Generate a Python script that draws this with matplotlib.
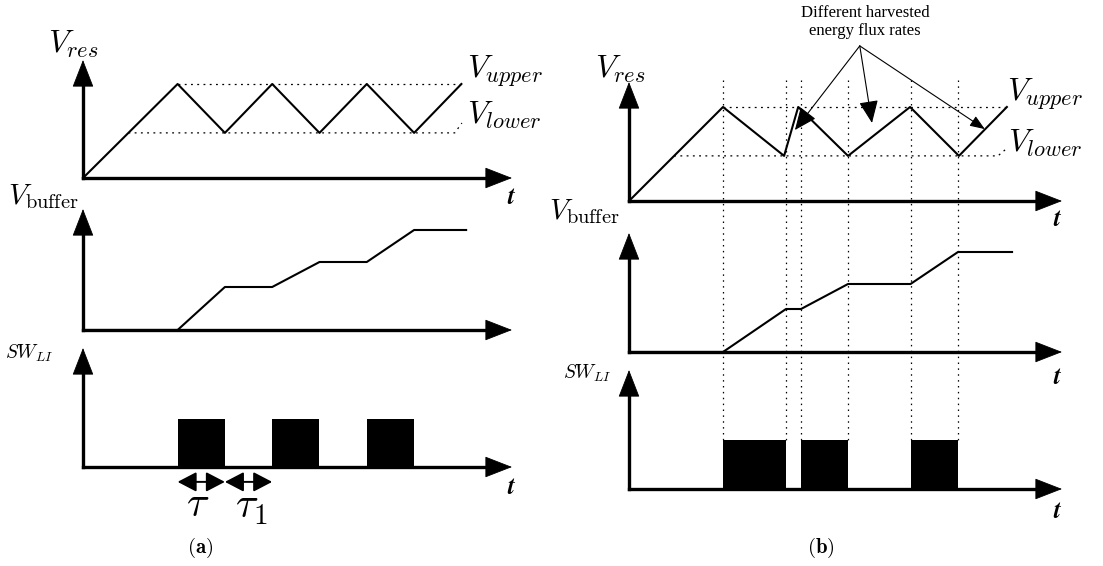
import matplotlib
matplotlib.use('Agg')
import matplotlib.pyplot as plt
from matplotlib import transforms

plt.rcParams['mathtext.fontset'] = 'cm'
plt.rcParams['font.family'] = ['DejaVu Serif']

# ---------------- data ----------------
V_UPPER = 1.0
V_LOWER = 0.48

# panel (a)
t_res_a = [0, 2, 3, 4, 5, 6, 7, 8]
v_res_a = [0, 1.0, 0.48, 1.0, 0.48, 1.0, 0.48, 1.0]
t_buf_a = [0, 2, 3, 4, 5, 6, 7, 8.1]
v_buf_a = [0, 0, 0.43, 0.43, 0.68, 0.68, 1.0, 1.0]
pulse_start_a = [2, 4, 6]
pulse_end_a = [3, 5, 7]
tau_spans = [(2, 3), (3, 4)]
tau_labels = [r'$\tau$', r'$\tau_1$']

# panel (b)
t_res_b = [0, 2, 3.30, 3.60, 4.66, 5.98, 7.02, 8.04]
v_res_b = [0, 1.0, 0.48, 1.0, 0.48, 1.0, 0.48, 1.0]
t_buf_b = [0, 2, 3.34, 3.66, 4.66, 5.99, 7.0, 8.15]
v_buf_b = [0, 0, 0.43, 0.43, 0.68, 0.68, 1.0, 1.0]
pulse_start_b = [2, 3.66, 5.99]
pulse_end_b = [3.34, 4.66, 7.0]
guide_t_b = [2, 3.34, 3.66, 4.66, 5.99, 7.0]

# annotation (panel b, top) : source point and arrow targets in (t, V) units
annot_src = (4.91, 1.65)
annot_tips = [(3.53, 0.755), (5.17, 0.83), (7.57, 0.765)]
annot_text = "Different harvested\nenergy flux rates"

# ---------------- layout helpers ----------------
W, H = 1103, 566
fig = plt.figure(figsize=(W / 100, H / 100), dpi=100)


def fx(px):
    return px / W


def fy(py):
    return 1 - py / H


def make_axes(x0, y0, ux, uy, tlim=(-0.6, 9.8), vlim=(-0.4, 1.5)):
    left = x0 + tlim[0] * ux
    right = x0 + tlim[1] * ux
    bottom = y0 - vlim[0] * uy
    top = y0 - vlim[1] * uy
    ax = fig.add_axes([fx(left), fy(bottom), (right - left) / W, (bottom - top) / H])
    ax.set_xlim(*tlim)
    ax.set_ylim(*vlim)
    ax.set_axis_off()
    return ax


AX_LW = 2.4
SIG_LW = 1.5
DOT = (0, (1.5, 3.5))
HEAD = '-|>,head_length=1.8,head_width=0.7'


def draw_frame(ax, ux, uy, tip_px_x, tip_px_y):
    t_tip = tip_px_x / ux
    v_tip = tip_px_y / uy
    hp = 12
    ax.plot([0, t_tip - hp / ux], [0, 0], color='k', lw=AX_LW,
            solid_capstyle='projecting', clip_on=False)
    ax.plot([0, 0], [0, v_tip - hp / uy], color='k', lw=AX_LW,
            solid_capstyle='projecting', clip_on=False)
    for xy in [(t_tip, 0), (0, v_tip)]:
        ax.annotate('', xy=xy, xytext=(0, 0),
                    arrowprops=dict(arrowstyle=HEAD, lw=0.6, color='k',
                                    shrinkA=0, shrinkB=0, mutation_scale=10),
                    annotation_clip=False)


def ptext(px, py, s, size, ha='left', va='baseline', **kw):
    fig.text(fx(px), fy(py), s, fontsize=size, ha=ha, va=va, **kw)


# ---------------- panel (a) ----------------
UXA = 47.3
ax_a1 = make_axes(83, 178, UXA, 94)
ax_a2 = make_axes(83, 330, UXA, 100)
ax_a3 = make_axes(83, 467, UXA, 48, vlim=(-1.0, 2.7))

draw_frame(ax_a1, UXA, 94, 429, 118)
draw_frame(ax_a2, UXA, 100, 429, 121)
draw_frame(ax_a3, UXA, 48, 429, 119)

ax_a1.plot(t_res_a, v_res_a, color='k', lw=SIG_LW, clip_on=False)
ax_a1.plot([t_res_a[1], t_res_a[-1]], [V_UPPER, V_UPPER], color='k', lw=0.9, ls=DOT, clip_on=False)
ax_a1.plot([V_LOWER * t_res_a[1], 7.86, 8.01], [V_LOWER, V_LOWER, 0.585],
           color='k', lw=0.9, ls=DOT, clip_on=False)

ax_a2.plot(t_buf_a, v_buf_a, color='k', lw=SIG_LW, clip_on=False)

ax_a3.bar(pulse_start_a, [1] * 3, width=[e - s for s, e in zip(pulse_start_a, pulse_end_a)],
          align='edge', color='k', edgecolor='k', lw=0)

for (s, e), lab in zip(tau_spans, tau_labels):
    ax_a3.annotate('', xy=(e, -0.31), xytext=(s, -0.31),
                   arrowprops=dict(arrowstyle='<|-|>,head_length=1.15,head_width=0.6',
                                   lw=1.4, color='k', shrinkA=0, shrinkB=0,
                                   mutation_scale=10),
                   annotation_clip=False)

ptext(198, 504, tau_labels[0], 30, ha='center', va='center')
ptext(251, 506, tau_labels[1], 30, ha='center', va='center')

ptext(48, 53, r'$V_{res}$', 23)
ptext(467, 78, r'$V_{upper}$', 23)
ptext(467, 124, r'$V_{lower}$', 23)
ptext(8, 204, r'$V_{\mathrm{buffer}}$', 21)
ptext(5, 359, r'$SW_{LI}$', 14)
ptext(512, 198, r'$\boldsymbol{t}$', 18, ha='center', va='center')
ptext(512, 487, r'$\boldsymbol{t}$', 18, ha='center', va='center')
ptext(200, 548, r'$\mathbf{(a)}$', 15, ha='center', va='center')

# ---------------- panel (b) ----------------
UXB = 47.0
ax_b1 = make_axes(629, 201, UXB, 94)
ax_b2 = make_axes(629, 352, UXB, 100)
ax_b3 = make_axes(629, 489, UXB, 49, vlim=(-1.0, 2.7))

draw_frame(ax_b1, UXB, 94, 433, 119)
draw_frame(ax_b2, UXB, 100, 433, 119)
draw_frame(ax_b3, UXB, 49, 433, 119)

ax_b1.plot(t_res_b, v_res_b, color='k', lw=SIG_LW, clip_on=False)
ax_b1.plot([t_res_b[1], t_res_b[-1]], [V_UPPER, V_UPPER], color='k', lw=0.9, ls=DOT, clip_on=False)
ax_b1.plot([V_LOWER * t_res_b[1], 7.85, 8.04], [V_LOWER, V_LOWER, 0.56],
           color='k', lw=0.9, ls=DOT, clip_on=False)

ax_b2.plot(t_buf_b, v_buf_b, color='k', lw=SIG_LW, clip_on=False)

ax_b3.bar(pulse_start_b, [1] * 3, width=[e - s for s, e in zip(pulse_start_b, pulse_end_b)],
          align='edge', color='k', edgecolor='k', lw=0)

blend = transforms.blended_transform_factory(ax_b3.transData, fig.transFigure)
for t in guide_t_b:
    ax_b3.plot([t, t], [fy(80), fy(440)], transform=blend, color='k', lw=0.9,
               ls=(0, (1.2, 3.5)), clip_on=False)

for i, tip in enumerate(annot_tips):
    style = ('-|>,head_length=1.4,head_width=0.6' if i < 2
             else '-|>,head_length=0.9,head_width=0.35')
    ax_b1.annotate('', xy=tip, xytext=annot_src,
                   arrowprops=dict(arrowstyle=style, lw=0.8, color='k',
                                   shrinkA=0, shrinkB=0, mutation_scale=10),
                   annotation_clip=False)
ptext(865, 22, annot_text, 12, ha='center', va='center', family='Liberation Serif',
      multialignment='center')

ptext(595, 78, r'$V_{res}$', 23)
ptext(1007, 101, r'$V_{upper}$', 23)
ptext(1008, 152, r'$V_{lower}$', 23)
ptext(620, 219, r'$V_{\mathrm{buffer}}$', 21, ha='right')
ptext(563, 379, r'$SW_{LI}$', 14)
ptext(1058, 219, r'$\boldsymbol{t}$', 18, ha='center', va='center')
ptext(1058, 378, r'$\boldsymbol{t}$', 18, ha='center', va='center')
ptext(1058, 512, r'$\boldsymbol{t}$', 18, ha='center', va='center')
ptext(821, 548, r'$\mathbf{(b)}$', 15, ha='center', va='center')

fig.savefig('out.png', dpi=100)
